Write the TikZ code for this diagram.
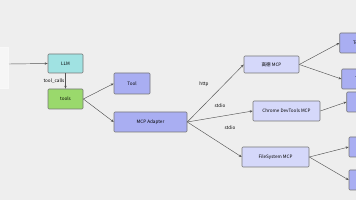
\documentclass[tikz,border=0pt]{standalone}
\usepackage{fontspec}
\setmainfont{Noto Sans CJK SC}
\usetikzlibrary{arrows.meta}
\definecolor{bgc}{HTML}{EEEEEE}
\definecolor{llmc}{HTML}{A0E2E2}
\definecolor{toolsc}{HTML}{9AD96C}
\definecolor{toolc}{HTML}{A9AEF2}
\definecolor{mcpc}{HTML}{D5D8FA}
\definecolor{edgec}{HTML}{555555}
\tikzset{
  box/.style={draw=edgec!80, line width=0.6pt, rounded corners=1pt, minimum height=20pt, inner sep=0pt, font=\fontsize{4.6}{5}\selectfont},
  conn/.style={draw=edgec, line width=0.45pt, -{Stealth[length=3pt,width=2.4pt]}},
  lbl/.style={font=\fontsize{4.6}{5}\selectfont, inner sep=0pt},
}
\begin{document}
\begin{tikzpicture}[x=1pt,y=-1pt]
\fill[bgc] (0,0) rectangle (356,200);
\useasboundingbox (0,0) rectangle (356,200);
\clip (0,0) rectangle (356,200);
% faint left node
\node[draw=white!60!bgc, fill=white!45!bgc, line width=0.4pt, minimum width=24pt, minimum height=41pt, inner sep=0pt] (user) at (-4,67.5) {};
\node[box, fill=llmc, minimum width=35pt, minimum height=19pt] (llm) at (65.5,63.5) {LLM};
\node[box, fill=toolsc, minimum width=35pt] (tools) at (65.5,99) {tools};
\node[box, fill=toolc, minimum width=36pt, minimum height=21pt] (tool) at (132,83.5) {Tool};
\node[box, fill=toolc, minimum width=73pt] (adapter) at (150.5,122) {MCP Adapter};
\node[box, fill=mcpc, minimum width=55pt, minimum height=17pt] (gaode) at (271.5,64.5) {高德 MCP};
\node[box, fill=mcpc, minimum width=67pt] (chrome) at (286.5,111) {Chrome DevTools MCP};
\node[box, fill=mcpc, minimum width=67pt] (fs) at (275.5,157) {FileSystem MCP};
\node[box, fill=toolc, minimum width=36pt] (t1) at (357.7,43) {Tool};
\node[box, fill=toolc, minimum width=36pt] (t2) at (359.7,79) {Tool};
\node[box, fill=toolc, minimum width=36pt] (t3) at (364.7,102) {Tool};
\node[box, fill=toolc, minimum width=36pt] (t4) at (367,147) {Tool};
\node[box, fill=toolc, minimum width=36pt] (t5) at (367,180) {Tool};
\coordinate (start) at (9,64);
\draw[conn] (start) -- (llm.west);
\draw[conn] (llm.south) -- (tools.north) node[lbl, pos=0.5, left=1pt] {tool\_calls};
\draw[conn] (tools.east) -- (tool.west);
\draw[conn] (tools.east) -- (adapter.west);
\draw[conn] (adapter.east) -- (gaode.west);
\draw[conn] (adapter.east) -- (chrome.west);
\draw[conn] (adapter.east) -- (fs.west);
\node[lbl] (l1) at (204,84) {http};
\node[lbl] (l2) at (220,106) {stdio};
\node[lbl] (l3) at (230,128) {stdio};
\draw[conn] (gaode.east) -- (t1.west);
\draw[conn] (gaode.east) -- (t2.west);
\draw[conn] (chrome.east) -- (t3.west);
\draw[conn] (fs.east) -- (t4.west);
\draw[conn] (fs.east) -- (t5.west);
\end{tikzpicture}
\end{document}
